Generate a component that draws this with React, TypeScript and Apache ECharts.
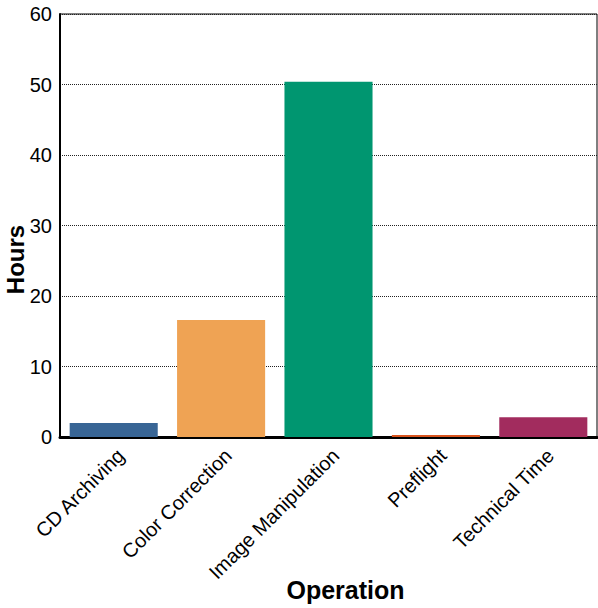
import React, { useEffect, useRef } from "react";
import * as echarts from "echarts";

const categories = ["CD Archiving", "Color Correction", "Image Manipulation", "Preflight", "Technical Time"];
const hours = [2.0, 16.6, 50.4, 0.3, 2.8];
const barColors = ["#386595", "#efa354", "#009670", "#d9541e", "#a22c5e"];

export default function App() {
  const ref = useRef<HTMLDivElement>(null);
  useEffect(() => {
    if (!ref.current) return;
    const chart = echarts.init(ref.current, null, { renderer: "svg" });
    chart.setOption({
      animation: false,
      textStyle: { fontFamily: "Liberation Sans, Arial, sans-serif" },
      grid: {
        left: 60, right: 1, top: 14, bottom: 171,
        containLabel: false,
        outerBoundsMode: "none",
        show: true, borderColor: "#000", borderWidth: 1,
      },
      xAxis: {
        type: "category",
        data: categories,
        name: "Operation",
        nameLocation: "middle",
        nameGap: 140,
        nameMoveOverlap: false,
        nameTextStyle: { fontSize: 25, fontWeight: "bold", color: "#000", padding: [0, 0, 0, 34] },
        axisLine: { lineStyle: { color: "#000", width: 3 } },
        axisTick: { show: false },
        axisLabel: { rotate: 45, fontSize: 20, color: "#000", margin: 8, interval: 0, verticalAlign: "top" },
      },
      yAxis: {
        type: "value",
        min: 0, max: 60, interval: 10,
        name: "Hours",
        nameLocation: "middle",
        nameGap: 33,
        nameMoveOverlap: false,
        nameTextStyle: { fontSize: 24, fontWeight: "bold", color: "#000", padding: [0, 68, 0, 0] },
        axisLine: { show: true, lineStyle: { color: "#000", width: 2 } },
        axisTick: { show: false },
        axisLabel: { fontSize: 20, color: "#000", margin: 8 },
        splitLine: { show: true, lineStyle: { color: "#222", type: "dotted", width: 1 } },
      },
      series: [{
        type: "bar",
        data: hours.map((v, i) => ({ value: v, itemStyle: { color: barColors[i] } })),
        barCategoryGap: "18%",
      }],
    });
    return () => chart.dispose();
  }, []);
  return <div ref={ref} style={{ width: 598, height: 608, position: "absolute", left: 0, top: 0 }} />;
}
